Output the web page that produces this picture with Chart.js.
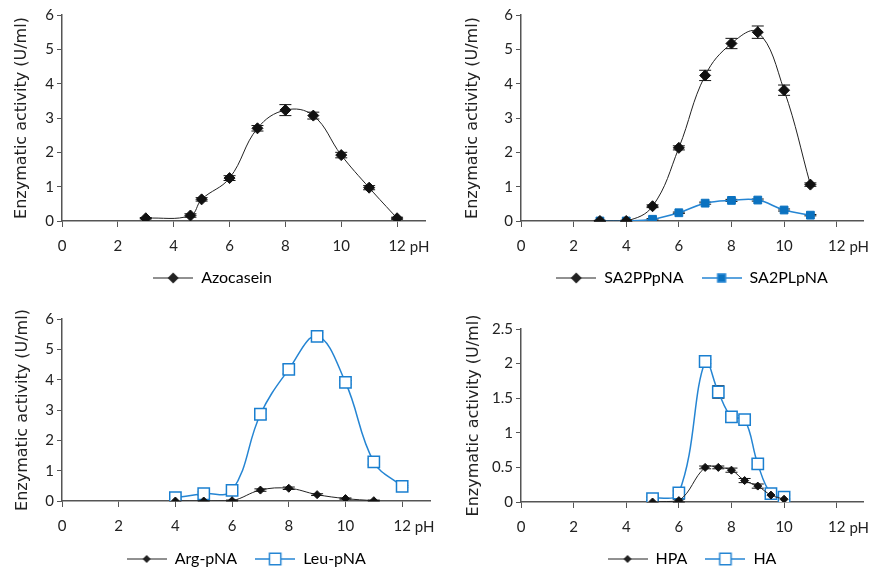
<!DOCTYPE html>
<html>
<head>
<meta charset="utf-8">
<script src="https://cdn.jsdelivr.net/npm/chart.js@4.4.1/dist/chart.umd.min.js"></script>
<style>
  body { margin: 0; background: #fff; }
  .panel { position: absolute; }
</style>
</head>
<body>
<div class="panel" style="left:0;top:0"><canvas id="c1" width="440" height="290"></canvas></div>
<div class="panel" style="left:440px;top:0"><canvas id="c2" width="445" height="290"></canvas></div>
<div class="panel" style="left:0;top:290px"><canvas id="c3" width="440" height="281"></canvas></div>
<div class="panel" style="left:440px;top:290px"><canvas id="c4" width="445" height="281"></canvas></div>
<script>
// --- data (pH vs activity U/ml) ---
const azoPH   = [3, 4.6, 5, 6, 7, 8, 9, 10, 11, 12];
const azoAct  = [0.08, 0.16, 0.63, 1.25, 2.70, 3.23, 3.07, 1.92, 0.97, 0.08];
const azoErr  = [0.02, 0.05, 0.05, 0.07, 0.08, 0.16, 0.10, 0.08, 0.06, 0.03];

const saPH    = [3, 4, 5, 6, 7, 8, 9, 10, 11];
const sappAct = [0.0, 0.0, 0.43, 2.13, 4.24, 5.17, 5.50, 3.81, 1.06];
const sappErr = [0.02, 0.02, 0.04, 0.06, 0.15, 0.15, 0.18, 0.15, 0.05];
const saplAct = [0.0, 0.0, 0.05, 0.24, 0.52, 0.60, 0.61, 0.32, 0.17];
const saplErr = [0.01, 0.01, 0.02, 0.02, 0.03, 0.03, 0.03, 0.03, 0.02];

const argPH   = [4, 5, 6, 7, 8, 9, 10, 11];
const argAct  = [0.0, 0.0, 0.01, 0.36, 0.42, 0.21, 0.08, 0.01];
const argErr  = [0.02, 0.02, 0.02, 0.04, 0.04, 0.03, 0.02, 0.02];
const leuPH   = [4, 5, 6, 7, 8, 9, 10, 11, 12];
const leuAct  = [0.11, 0.24, 0.35, 2.86, 4.34, 5.43, 3.91, 1.29, 0.48];
const leuErr  = [0.05, 0.06, 0.08, 0.15, 0.15, 0.12, 0.06, 0.1, 0.03];

const hpaPH   = [5, 6, 7, 7.5, 8, 8.5, 9, 9.5, 10];
const hpaAct  = [0.0, 0.02, 0.50, 0.50, 0.46, 0.31, 0.23, 0.10, 0.04];
const hpaErr  = [0.02, 0.02, 0.02, 0.02, 0.03, 0.03, 0.03, 0.02, 0.01];
const haPH    = [5, 6, 7, 7.5, 8, 8.5, 9, 9.5, 10];
const haAct   = [0.05, 0.13, 2.03, 1.59, 1.23, 1.19, 0.55, 0.12, 0.07];
const haErr   = [0.02, 0.03, 0.03, 0.09, 0.07, 0.06, 0.07, 0.03, 0.03];

const FONT = 'Lato';
const TITLE_FONT = 'DejaVu Sans';
const TXT = '#222';
const AXIS = '#555';
const BLUE = '#2585d3';

function pts(xs, ys) { return xs.map((x, i) => ({x: x, y: ys[i]})); }

// legend icon: short line with the marker in the middle
function legendIcon(color, lineW, style, r, fill) {
  const c = document.createElement('canvas');
  c.width = 40; c.height = 16;
  const g = c.getContext('2d');
  g.strokeStyle = color; g.lineWidth = lineW;
  g.beginPath(); g.moveTo(0, 8); g.lineTo(40, 8); g.stroke();
  g.fillStyle = fill; g.lineWidth = 1.5;
  g.beginPath();
  if (style === 'rectRot') {
    g.moveTo(20 - r, 8); g.lineTo(20, 8 - r); g.lineTo(20 + r, 8); g.lineTo(20, 8 + r); g.closePath();
    g.fillStyle = color; g.fill();
  } else {
    const s = r * Math.SQRT1_2;
    g.rect(20 - s, 8 - s, 2 * s, 2 * s);
    g.fill(); g.stroke();
  }
  return c;
}

const errorBars = {
  id: 'errorBars',
  beforeDatasetsDraw(chart) {
    const ctx = chart.ctx, ys = chart.scales.y, xs = chart.scales.x;
    ctx.save();
    ctx.strokeStyle = '#111';
    ctx.lineWidth = 1;
    chart.data.datasets.forEach(ds => {
      if (!ds.errors) return;
      ds.data.forEach((p, i) => {
        const px = xs.getPixelForValue(p.x);
        const top = ys.getPixelForValue(p.y + ds.errors[i]);
        const bot = ys.getPixelForValue(Math.max(p.y - ds.errors[i], 0));
        ctx.beginPath();
        ctx.moveTo(px, top); ctx.lineTo(px, bot);
        ctx.moveTo(px - 6, top); ctx.lineTo(px + 6, top);
        ctx.moveTo(px - 6, bot); ctx.lineTo(px + 6, bot);
        ctx.stroke();
      });
    });
    ctx.restore();
  }
};

// "pH" written after the last x tick label
const phLabel = {
  id: 'phLabel',
  afterDraw(chart) {
    const ctx = chart.ctx, xs = chart.scales.x;
    ctx.save();
    ctx.font = '15px ' + FONT;
    ctx.fillStyle = TXT;
    ctx.textBaseline = 'middle';
    const x12 = xs.getPixelForValue(12) + ctx.measureText('12').width / 2 + 4;
    ctx.fillText('pH', x12, xs.top + 26);
    ctx.restore();
  }
};

function makeChart(id, datasets, yMax, yStep, lay) {
  const chart = new Chart(document.getElementById(id), {
    type: 'line',
    data: { datasets: datasets },
    plugins: [errorBars, phLabel],
    options: {
      responsive: false,
      animation: false,
      layout: { padding: { left: 0, right: lay.right, top: lay.top, bottom: 0 } },
      elements: { line: { tension: 0.4 } },
      scales: {
        x: {
          type: 'linear', min: 0, max: 13,
          border: { color: AXIS, width: 1.5 },
          grid: { drawOnChartArea: false, drawTicks: true, tickLength: 6, color: AXIS },
          ticks: { stepSize: 2, includeBounds: false, color: TXT, padding: 10, maxRotation: 0,
                   font: { family: FONT, size: 15 } },
          afterFit: s => { s.height = lay.xh; }
        },
        y: {
          min: 0, max: yMax,
          border: { color: AXIS, width: 1.5 },
          grid: { drawOnChartArea: false, drawTicks: true, tickLength: 5, color: AXIS },
          ticks: { stepSize: yStep, color: TXT, padding: 3, font: { family: FONT, size: 15 },
                   callback: v => String(v) },
          title: { display: true, text: 'Enzymatic activity (U/ml)', color: TXT,
                   font: { family: TITLE_FONT, size: 16, lineHeight: 1 }, padding: { top: lay.tpad, bottom: 0 } },
          afterFit: s => { s.width = lay.left; }
        }
      },
      plugins: {
        tooltip: { enabled: false },
        legend: {
          position: 'bottom',
          fullSize: lay.full,
          labels: {
            usePointStyle: true, pointStyleWidth: 40, padding: 18, color: TXT,
            font: { family: FONT, size: 16 },
            generateLabels: ch => ch.data.datasets.map((ds, i) => ({
              text: ds.label, pointStyle: ds.icon, datasetIndex: i,
              fillStyle: ds.borderColor, strokeStyle: ds.borderColor, lineWidth: 0, hidden: false
            }))
          }
        }
      }
    }
  });
  const fit = chart.legend.fit;
  chart.legend.fit = function () { fit.call(this); this.height = 38; };
  chart.update();
  return chart;
}

function blackDiamond(label, xs, ys, errs, r) {
  return { label: label, data: pts(xs, ys), errors: errs,
    borderColor: '#222', borderWidth: 1, pointStyle: 'rectRot', pointRadius: r,
    pointBackgroundColor: '#111', pointBorderColor: '#111', pointBorderWidth: 1,
    icon: legendIcon('#222', 1, 'rectRot', r, '#111') };
}

makeChart('c1', [blackDiamond('Azocasein', azoPH, azoAct, azoErr, 5.5)], 6, 1,
  { left: 62, right: 15, top: 15, xh: 31, tpad: 14, full: true });

makeChart('c2', [
  blackDiamond('SA2PPpNA', saPH, sappAct, sappErr, 5.5),
  { label: 'SA2PLpNA', data: pts(saPH, saplAct), errors: saplErr,
    borderColor: BLUE, borderWidth: 1.5, pointStyle: 'rect', pointRadius: 5.5,
    pointBackgroundColor: '#0b72c0', pointBorderColor: '#0b72c0', pointBorderWidth: 1,
    icon: legendIcon(BLUE, 1.5, 'rect', 5.5, '#0b72c0') }
], 6, 1, { left: 81, right: 22, top: 15, xh: 31, tpad: 25, full: false });

makeChart('c3', [
  blackDiamond('Arg-pNA', argPH, argAct, argErr, 4),
  { label: 'Leu-pNA', data: pts(leuPH, leuAct), errors: leuErr,
    borderColor: BLUE, borderWidth: 1.5, pointStyle: 'rect', pointRadius: 8,
    pointBackgroundColor: '#fff', pointBorderColor: '#1a7fd0', pointBorderWidth: 1.5,
    icon: legendIcon(BLUE, 1.5, 'rect', 8, '#fff') }
], 6, 1, { left: 62, right: 8, top: 29, xh: 32, tpad: 15, full: false });

makeChart('c4', [
  blackDiamond('HPA', hpaPH, hpaAct, hpaErr, 4),
  { label: 'HA', data: pts(haPH, haAct), errors: haErr,
    borderColor: BLUE, borderWidth: 1.5, pointStyle: 'rect', pointRadius: 8,
    pointBackgroundColor: '#fff', pointBorderColor: '#1a7fd0', pointBorderWidth: 1.5,
    icon: legendIcon(BLUE, 1.5, 'rect', 8, '#fff') }
], 2.5, 0.5, { left: 81, right: 22, top: 39, xh: 31, tpad: 26, full: false });
</script>
</body>
</html>
